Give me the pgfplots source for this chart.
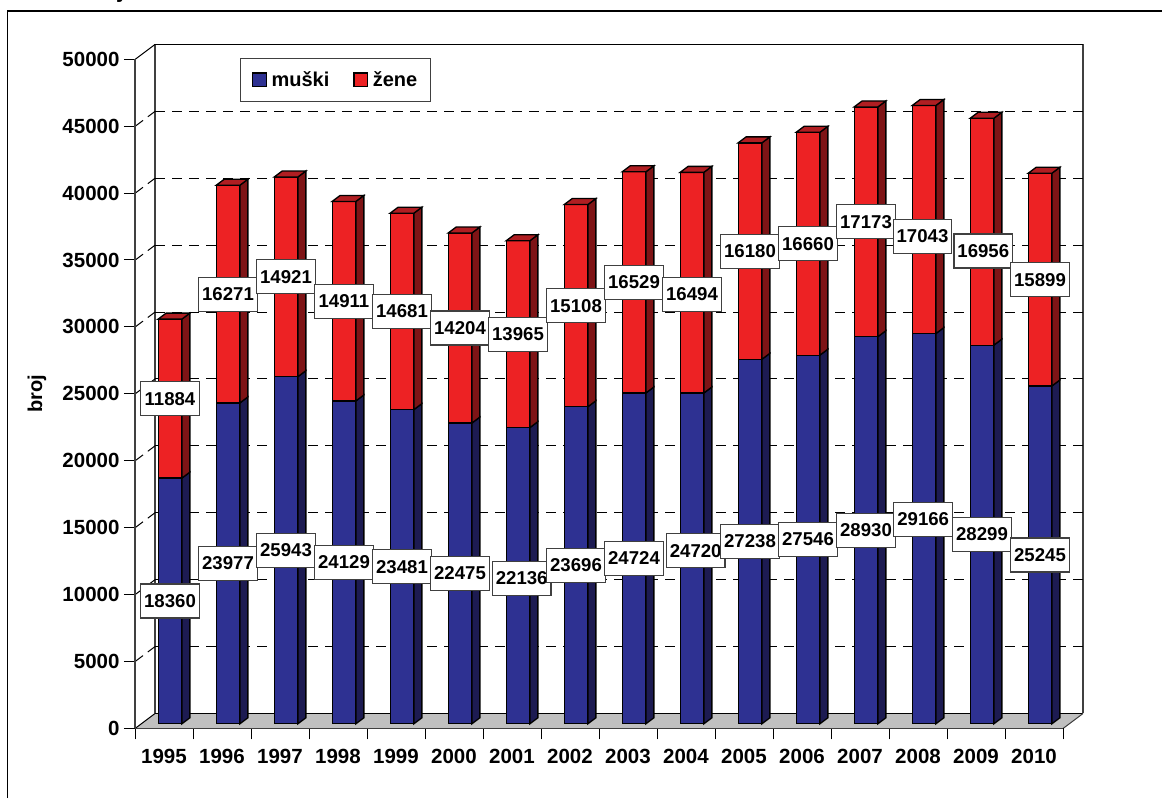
\documentclass[border=0pt]{standalone}
\usepackage{pgfplots}
\usepackage{pgfplotstable}
\usepackage{fontspec}
\setmainfont{Liberation Sans}
\pgfplotsset{compat=1.18}
\definecolor{blueF}{HTML}{2E3192}
\definecolor{blueS}{HTML}{1D1B52}
\definecolor{redF}{HTML}{ED2224}
\definecolor{redS}{HTML}{7E1416}
\definecolor{redT}{HTML}{B01E22}
\definecolor{floorG}{HTML}{C0C0C0}
\definecolor{axG}{HTML}{404040}
% m, z: the two series; mdx..zdy: the hand placed offsets of their value labels
\pgfplotstableread{
i m z mdx mdy zdx zdy
0 18360 11884 0 0 0 0
1 23977 16271 0 0 0 0
2 25943 14921 0 0 0 0
3 24129 14911 0 0 0 0
4 23481 14681 0 0 0 0
5 22475 14204 0 0 0 0
6 22136 13965 3.7 -2.5 0 0
7 23696 15108 0 0 0 0
8 24724 16529 0 0 0 0
9 24720 16494 3.7 7.7 0 -11.6
10 27238 16180 0 0 0 0
11 27546 16660 0 0 0 0
12 28930 17173 0 0 0 0
13 29166 17043 -0.8 9.2 -1.5 -16.8
14 28299 16956 0 0 1.3 -19.2
15 25245 15899 0 0 0 0
}\dataT
\newcommand\sideface{%
  \pgfsetlinewidth{1.3pt}\pgfsetstrokecolor{black}%
  \pgfpathmoveto{\pgfpoint{11.85pt}{0pt}}%
  \pgfpathlineto{\pgfpoint{19.85pt}{6pt}}%
  \pgfpathlineto{\pgfpoint{19.85pt}{6pt-\hh*1pt}}%
  \pgfpathlineto{\pgfpoint{11.85pt}{0pt-\hh*1pt}}%
  \pgfpathclose\pgfusepath{fill,stroke}}
\pgfdeclareplotmark{sideB}{\pgfsetfillcolor{blueS}\sideface}
\pgfdeclareplotmark{sideR}{%
  \pgfsetfillcolor{redS}\sideface
  \pgfsetfillcolor{redT}%
  \pgfpathmoveto{\pgfpoint{-11.85pt}{0pt}}%
  \pgfpathlineto{\pgfpoint{-3.85pt}{6pt}}%
  \pgfpathlineto{\pgfpoint{19.85pt}{6pt}}%
  \pgfpathlineto{\pgfpoint{11.85pt}{0pt}}%
  \pgfpathclose\pgfusepath{fill,stroke}%
}
\pgfplotsset{
  base/.style={width=928pt,height=669pt,scale only axis,clip=false,
    xmin=-0.5,xmax=15.5,ymin=0,ymax=50000},
  lab/.style={only marks,mark=none,point meta=explicit symbolic,
    nodes near coords={\pgfplotspointmeta},
    nodes near coords style={anchor=center,fill=white,draw=axG,line width=1.2pt,
      minimum width=58.7pt,minimum height=34pt,inner sep=0pt,text=black,
      xshift=\ldx*1pt,yshift=\ldy*1pt,
      font=\fontsize{18.6}{22}\selectfont\bfseries}},
}
\begin{document}
\begin{tikzpicture}[x=1pt,y=1pt]
\useasboundingbox (0,0) rectangle (1162,798);
\fill[white] (0,0) rectangle (1162,798);
\draw[black,line width=1.5pt] (7.7,0) -- (7.7,787) -- (1162,787);
\node[anchor=base,font=\fontsize{24}{28}\selectfont\bfseries,inner sep=0pt] at (121,800) {j};
% back wall, floor, grid
\begin{axis}[base,at={(155pt,84.5pt)},hide axis]
  \fill[floorG] (axis cs:-0.5,0) -- ++(-20pt,-15pt) -- ++(928pt,0pt) -- (axis cs:15.5,0) -- cycle;
  \draw[black,line width=1.3pt] (axis cs:-0.5,0) -- (axis cs:15.5,0);
  \draw[axG,line width=1pt] (axis cs:15.5,0) -- ++(-20pt,-15pt);
  \draw[axG,line width=1.5pt] (axis cs:-0.5,0) -- (axis cs:-0.5,50000);
  \draw[axG,line width=1.5pt] (axis cs:15.5,0) -- (axis cs:15.5,50000);
  \draw[black,line width=1.2pt] (axis cs:-0.5,50000) -- (axis cs:15.5,50000);
  \draw[black,line width=1pt] (axis cs:-0.5,50000) -- ++(-20pt,-15pt);
  \draw[black,line width=1pt] (axis cs:-0.5,0) -- ++(-20pt,-15pt);
  \pgfplotsinvokeforeach{5000,10000,15000,20000,25000,30000,35000,40000,45000}{
    \draw[black,line width=1pt,dash pattern=on 10pt off 7pt] (axis cs:-0.5,#1) -- (axis cs:15.5,#1);
    \draw[black,line width=1pt,dash pattern=on 9pt off 6pt] (axis cs:-0.5,#1) -- ++(-20pt,-15pt);
  }
\end{axis}
% front axis
\begin{axis}[base,at={(135pt,69.7pt)},
  axis lines=left,axis line style={-,axG,line width=1.5pt},
  tick align=outside,major tick length=11pt,
  tick style={black,line width=1pt},
  xtick={-0.5,0.5,1.5,2.5,3.5,4.5,5.5,6.5,7.5,8.5,9.5,10.5,11.5,12.5,13.5,14.5,15.5},
  xticklabels={1995,1996,1997,1998,1999,2000,2001,2002,2003,2004,2005,2006,2007,2008,2009,2010,{}},
  xticklabel style={xshift=29pt,yshift=-6pt,font=\fontsize{20.5}{24}\selectfont\bfseries},
  ytick={0,5000,10000,15000,20000,25000,30000,35000,40000,45000,50000},
  yticklabel style={font=\fontsize{20.5}{24}\selectfont\bfseries,xshift=-1pt},
  /pgf/number format/assume math mode=true,
  /pgf/number format/.cd,fixed,1000 sep={},/pgfplots/.cd,
  scaled y ticks=false,
  ylabel={broj},
  every axis y label/.style={at={(axis description cs:0,0.5)},rotate=90,anchor=center,yshift=98pt,font=\fontsize{20}{24}\selectfont\bfseries},
]
\end{axis}
% bar fronts
\begin{axis}[base,at={(141pt,74.2pt)},hide axis,ybar stacked,bar width=23.7pt]
  \addplot[fill=blueF,draw=black,line width=1.3pt] table[x=i,y=m]{\dataT};
  \addplot[fill=redF,draw=black,line width=1.3pt] table[x=i,y=z]{\dataT};
\end{axis}
% depth faces and value labels
\begin{axis}[base,at={(141pt,74.2pt)},hide axis]
  \addplot[only marks,mark=sideB,visualization depends on={\thisrow{m}*0.01338\as\hh}]
    table[x=i,y=m]{\dataT};
  \addplot[only marks,mark=sideR,visualization depends on={\thisrow{z}*0.01338\as\hh}]
    table[x=i,y expr=\thisrow{m}+\thisrow{z}]{\dataT};
  \addplot[lab,visualization depends on={\thisrow{mdx}\as\ldx},visualization depends on={\thisrow{mdy}\as\ldy}]
    table[x=i,y expr=\thisrow{m}/2,meta=m]{\dataT};
  \addplot[lab,visualization depends on={\thisrow{zdx}\as\ldx},visualization depends on={\thisrow{zdy}\as\ldy}]
    table[x=i,y expr=\thisrow{m}+\thisrow{z}/2,meta=z]{\dataT};
\end{axis}
% legend
\begin{axis}[base,at={(141pt,74.2pt)},hide axis,
  legend columns=2,
  legend style={at={(99pt,665.6pt)},anchor=north west,draw=axG,line width=1.2pt,fill=white,
    inner xsep=11.5pt,inner ysep=11pt,
    nodes={inner xsep=1.5pt,inner ysep=2pt,fill=none,draw=none},
    font=\fontsize{20}{24}\selectfont\bfseries,
    /tikz/every even column/.append style={column sep=22.5pt}},
  legend image code/.code={\draw[#1,line width=1.3pt] (0pt,-6.5pt) rectangle (13.5pt,7pt);\path (16.7pt,0pt);},
  legend cell align=left,
]
  \addlegendimage{fill=blueF,draw=black}\addlegendentry{muški}
  \addlegendimage{fill=redF,draw=black}\addlegendentry{žene}
\end{axis}
\end{tikzpicture}
\end{document}
